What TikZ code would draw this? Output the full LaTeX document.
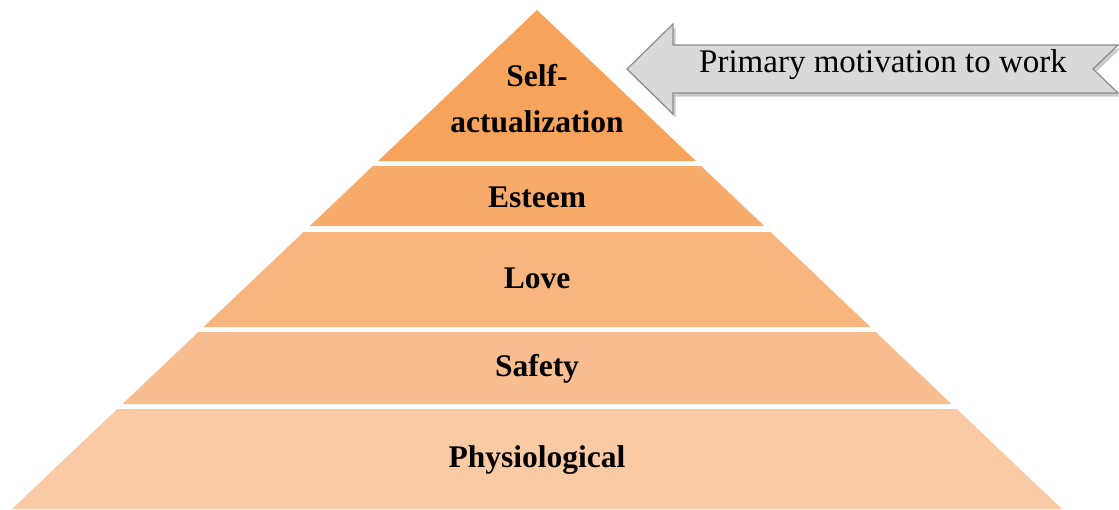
\documentclass[tikz,border=0pt]{standalone}
\usepackage{fontspec}
\setmainfont{Liberation Serif}
\usetikzlibrary{shadows}
\definecolor{cA}{RGB}{247,163,91}
\definecolor{cB}{RGB}{248,172,108}
\definecolor{cC}{RGB}{248,181,126}
\definecolor{cD}{RGB}{249,190,143}
\definecolor{cE}{RGB}{249,202,164}
\definecolor{arrfill}{RGB}{217,217,217}
\definecolor{arrline}{RGB}{140,140,140}
\tikzset{
  layer/.style={draw=none},
  lbl/.style={font=\fontsize{31.5}{46}\selectfont\bfseries, align=center, inner sep=0pt, anchor=base},
  arrtext/.style={font=\fontsize{33}{40}\selectfont, inner sep=0pt, anchor=base},
  bigarrow/.style={fill=arrfill, draw=arrline, line width=1.2pt, line join=miter,
    drop shadow={shadow xshift=2.5pt, shadow yshift=-3.5pt, opacity=0.35, fill=black!60}}
}
\begin{document}
\begin{tikzpicture}[x=1pt,y=-1pt]
\useasboundingbox (0,0) rectangle (1119,509);
% layers
\fill[cA,layer] (537,10) -- (695.9,161) -- (378.1,161) -- cycle;
\fill[cB,layer] (372.9,166) -- (701.1,166) -- (764.2,226) -- (309.8,226) -- cycle;
\fill[cC,layer] (303.5,232) -- (770.5,232) -- (870.5,327) -- (203.5,327) -- cycle;
\fill[cD,layer] (198.3,332) -- (875.7,332) -- (951.5,404) -- (122.5,404) -- cycle;
\fill[cE,layer] (117.3,409) -- (956.7,409) -- (1062,509) -- (12,509) -- cycle;
% labels
\node[lbl, anchor=center] (self) at (537,98.5) {Self-\\actualization};
\node[lbl] (esteem) at (537,207) {Esteem};
\node[lbl] (love) at (537,288) {Love};
\node[lbl] (safety) at (537,376) {Safety};
\node[lbl] (phys) at (537,467) {Physiological};
% arrow
\path[bigarrow] (627,69) -- (673,24) -- (673,45) -- (1118,45) -- (1093,69) -- (1118,93) -- (673,93) -- (673,114) -- cycle;
\node[arrtext] (motiv) at (883,72) {Primary motivation to work};
\end{tikzpicture}
\end{document}
